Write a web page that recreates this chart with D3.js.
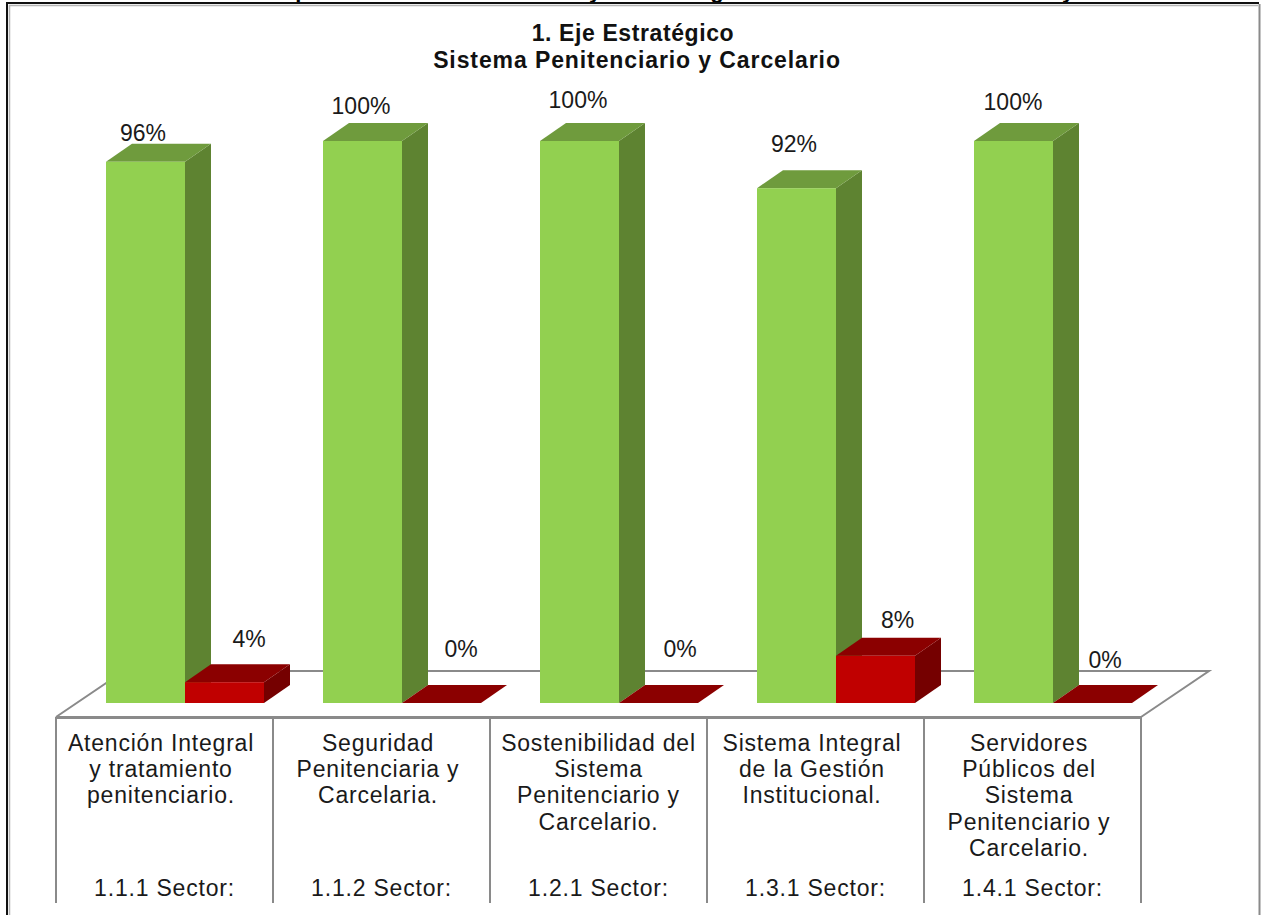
<!DOCTYPE html>
<html>
<head>
<meta charset="utf-8">
<script src="https://cdn.jsdelivr.net/npm/d3@7"></script>
<style>
    html, body { margin: 0; padding: 0; background: #fff; }
    svg { display: block; }
    text { font-family: "Liberation Sans", Arial, sans-serif; fill: #1a1a1a; }
</style>
</head>
<body>
<div id="wrapper"></div>
<script>
// Data
const sectorCodes = ["1.1.1 Sector:", "1.1.2 Sector:", "1.2.1 Sector:", "1.3.1 Sector:", "1.4.1 Sector:"];
const sectorNames = [
    ["Atención Integral", "y tratamiento", "penitenciario."],
    ["Seguridad", "Penitenciaria y", "Carcelaria."],
    ["Sostenibilidad del", "Sistema", "Penitenciario y", "Carcelario."],
    ["Sistema Integral", "de la Gestión", "Institucional."],
    ["Servidores", "Públicos del", "Sistema", "Penitenciario y", "Carcelario."],
];
const seriesNames = ["cumplido", "pendiente"];
const cumplido = [0.963, 1, 1, 0.916, 1];
const pendiente = [0.037, 0, 0, 0.084, 0];
const titleLines = ["1. Eje Estratégico", "Sistema Penitenciario y Carcelario"];
// only the descenders of the heading above the chart survive the crop
const croppedLetters = ["p", "y", "g", "y"];

// Hand-placed labels of the original, as offsets from the centre of the bar's top edge
const labelNudge = {
    cumplido: [[-2.5, -3], [-1.5, -9], [-1.5, -15], [-2.5, -18], [-0.5, -13]],
    pendiente: [[24.5, -17], [19.5, -28], [21.5, -28], [22, -10], [12.5, -17]],
};
const nameNudge = [-3.5, -3.5, 0, -3.5, -3.5];
const croppedLetterX = [302, 595, 717, 1068];

// Dimensions
const dimensions = { width: 1261, height: 915, depthX: 26, depthY: 18 };

const wrapper = d3.select("#wrapper")
    .append("svg")
    .attr("width", dimensions.width)
    .attr("height", dimensions.height);

// Scales
const xScale = d3.scaleBand().domain(sectorCodes).range([56, 1141]);
const innerScale = d3.scaleBand().domain(seriesNames).range([50, 208]);
const yScale = d3.scaleLinear().domain([0, 1]).range([703, 141]);

const colors = {
    cumplido: { front: "#92d050", top: "#6f9b3d", side: "#5e8331" },
    pendiente: { front: "#c00000", top: "#8b0000", side: "#750000" },
};

// Cropped heading
wrapper.append("clipPath").attr("id", "topCrop")
    .append("rect").attr("width", dimensions.width).attr("height", 3);
wrapper.append("g").attr("clip-path", "url(#topCrop)")
    .selectAll("text").data(croppedLetters).join("text")
    .attr("x", (d, i) => croppedLetterX[i])
    .attr("y", -2)
    .attr("text-anchor", "middle")
    .style("font-size", "22px")
    .style("font-weight", "bold")
    .style("fill", "#000")
    .text(d => d);

// Frame
wrapper.append("path")
    .attr("d", "M7,915V3H1259")
    .attr("fill", "none").attr("stroke", "#111").attr("stroke-width", 2);
wrapper.append("path")
    .attr("d", "M9.5,915V5.5H1258")
    .attr("fill", "none").attr("stroke", "#b5b5b5").attr("stroke-width", 1.5);
wrapper.append("line")
    .attr("x1", 1259.5).attr("x2", 1259.5).attr("y1", 4).attr("y2", 915)
    .attr("stroke", "#8a8a8a").attr("stroke-width", 2);

// Title
wrapper.append("g").selectAll("text").data(titleLines).join("text")
    .attr("x", (d, i) => i === 0 ? 633 : 637)
    .attr("y", (d, i) => 41 + i * 27)
    .attr("text-anchor", "middle")
    .style("font-size", "23px")
    .style("letter-spacing", (d, i) => i === 0 ? "0.6px" : "0.9px")
    .style("font-weight", "bold")
    .style("fill", "#111")
    .text(d => d);

// Floor
const lineColor = "#8a8a8a";
const [xLeft, xRight] = xScale.range();
wrapper.append("path")
    .attr("d", `M${xLeft},717L${xLeft + 68},671H${xRight + 68}L${xRight},717`)
    .attr("fill", "#fff").attr("stroke", lineColor).attr("stroke-width", 2);

// Category table
const xAxis = wrapper.append("g")
    .attr("transform", "translate(0,717)")
    .call(d3.axisBottom(xScale).tickSize(0).tickPadding(163));
xAxis.select(".domain").attr("stroke", lineColor).attr("stroke-width", 3);
xAxis.selectAll("text")
    .style("font-family", '"Liberation Sans", Arial, sans-serif')
    .style("font-size", "23px")
    .style("letter-spacing", "0.8px")
    .style("fill", "#1a1a1a");

wrapper.append("g").selectAll("line")
    .data([...sectorCodes.map(d => xScale(d)), xRight]).join("line")
    .attr("x1", d => d).attr("x2", d => d)
    .attr("y1", 717).attr("y2", 903)
    .attr("stroke", lineColor).attr("stroke-width", 2);

wrapper.append("g").selectAll("g").data(sectorNames).join("g")
    .each(function(lines, i) {
        d3.select(this).selectAll("text").data(lines).join("text")
            .attr("x", xScale(sectorCodes[i]) + xScale.bandwidth() / 2 + nameNudge[i])
            .attr("y", (d, j) => 751 + j * 26.2)
            .attr("text-anchor", "middle")
            .style("font-size", "23px")
            .style("letter-spacing", "0.8px")
            .text(d => d);
    });

// Draw 3D bars
function drawBar(code, i, series, value) {
    const x0 = xScale(code) + innerScale(series);
    const x1 = x0 + innerScale.bandwidth();
    const y0 = yScale(0);
    const y1 = yScale(value);
    const dx = dimensions.depthX;
    const dy = dimensions.depthY;
    const group = wrapper.append("g").attr("class", series);
    group.append("path")
        .attr("d", `M${x1},${y0}L${x1 + dx},${y0 - dy}V${y1 - dy}L${x1},${y1}Z`)
        .attr("fill", colors[series].side);
    group.append("path")
        .attr("d", `M${x0},${y1}L${x0 + dx},${y1 - dy}H${x1 + dx}L${x1},${y1}Z`)
        .attr("fill", colors[series].top);
    group.append("rect")
        .attr("x", x0).attr("y", y1)
        .attr("width", x1 - x0).attr("height", y0 - y1)
        .attr("fill", colors[series].front);
    const nudge = labelNudge[series][i];
    wrapper.append("text")
        .attr("x", x0 + innerScale.bandwidth() / 2 + nudge[0])
        .attr("y", y1 - dy + nudge[1])
        .attr("text-anchor", "middle")
        .style("font-size", "23px")
        .text(d3.format(".0%")(value));
}

sectorCodes.forEach((code, i) => {
    drawBar(code, i, "cumplido", cumplido[i]);
    drawBar(code, i, "pendiente", pendiente[i]);
});
</script>
</body>
</html>
